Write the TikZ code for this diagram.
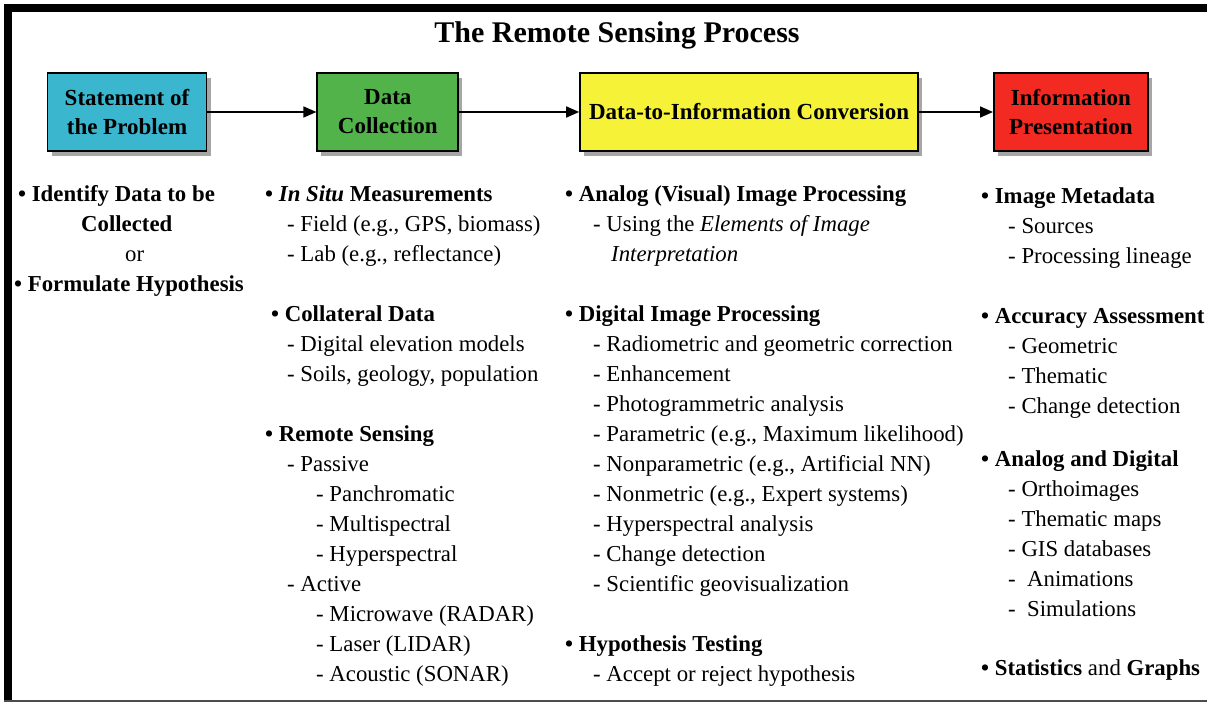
\documentclass[tikz,border=0pt]{standalone}
\usepackage{fontspec}
\setmainfont{Liberation Serif}
\usetikzlibrary{
  arrows.meta,
  positioning,
  shadows,
}
\definecolor{stagecyan}{RGB}{58, 182, 207}
\definecolor{stagegreen}{RGB}{82, 179, 74}
\definecolor{stageyellow}{RGB}{245, 242, 56}
\definecolor{stagered}{RGB}{243, 42, 34}
\newcommand{\titlefont}{\fontsize{30}{34}\selectfont\bfseries}
\newcommand{\boxfont}{\fontsize{23}{29}\selectfont\bfseries}
\newcommand{\bodyfont}{\fontsize{22.8}{30}\selectfont}
\newcommand{\ind}[1]{\hspace*{#1pt}}
\tikzstyle{flow} = [
  -{Triangle[length=13pt, width=11pt]},
  line width=1.6pt,
]

\begin{document}
\begin{tikzpicture}[x=1pt, y=-1pt,
    stage/.style={draw, line width=1.8pt, minimum height=78pt,
                  inner sep=0pt, align=center, font=\boxfont,
                  drop shadow={shadow xshift=4pt, shadow yshift=-5pt,
                               opacity=.35, fill=black}},
    points/.style={anchor=north west, inner sep=0pt, align=left,
                   font=\bodyfont}]
  \useasboundingbox (0,0) rectangle (1207,703);
  % frame
  \draw [line width=8pt] (8,700) -- (8,8) -- (1207,8);
  \draw [black!70, line width=1.5pt] (4,701) -- (1207,701);
  \node [font=\titlefont, anchor=base] (title) at (617,43)
        {The Remote Sensing Process};
  % the four stages
  \node [stage, fill=stagecyan, minimum width=159pt] (problem) at (127,112)
        {Statement of\\the Problem};
  \node [stage, fill=stagegreen, minimum width=141pt, right=109pt of problem]
        (collect) {Data\\Collection};
  \node [stage, fill=stageyellow, minimum width=338pt, right=120pt of collect]
        (convert) {Data-to-Information Conversion};
  \node [stage, fill=stagered, minimum width=154pt, right=74pt of convert]
        (present) {Information\\Presentation};
  \draw [flow] (problem) -- (collect);
  \draw [flow] (collect) -- (convert);
  \draw [flow] (convert) -- (present);
  % what goes on in each stage
  \node [points] (problempts) at (14,180)
        {\strut\ind{4}\textbf{\textbullet\ Identify Data to be}\\
         \ind{67}\textbf{Collected}\\
         \ind{111}or\\
         \textbf{\textbullet\ Formulate Hypothesis}};
  \node [points] (collectpts) at (265,180)
        {\strut\textbf{\textbullet\ \textit{In Situ} Measurements}\\
         \ind{22}- Field (e.g., GPS, biomass)\\
         \ind{22}- Lab (e.g., reflectance)\\
         \strut\\
         \ind{6}\textbf{\textbullet\ Collateral Data}\\
         \ind{22}- Digital elevation models\\
         \ind{22}- Soils, geology, population\\
         \strut\\
         \textbf{\textbullet\ Remote Sensing}\\
         \ind{22}- Passive\\
         \ind{51}- Panchromatic\\
         \ind{51}- Multispectral\\
         \ind{51}- Hyperspectral\\
         \ind{22}- Active\\
         \ind{51}- Microwave (RADAR)\\
         \ind{51}- Laser (LIDAR)\\
         \ind{51}- Acoustic (SONAR)};
  \node [points] (convertpts) at (565,180)
        {\strut\textbf{\textbullet\ Analog (Visual) Image Processing}\\
         \ind{28}- Using the \textit{Elements of Image}\\
         \ind{46}\textit{Interpretation}\\
         \strut\\
         \textbf{\textbullet\ Digital Image Processing}\\
         \ind{28}- Radiometric and geometric correction\\
         \ind{28}- Enhancement\\
         \ind{28}- Photogrammetric analysis\\
         \ind{28}- Parametric (e.g., Maximum likelihood)\\
         \ind{28}- Nonparametric (e.g., Artificial NN)\\
         \ind{28}- Nonmetric (e.g., Expert systems)\\
         \ind{28}- Hyperspectral analysis\\
         \ind{28}- Change detection\\
         \ind{28}- Scientific geovisualization\\
         \strut\\
         \textbf{\textbullet\ Hypothesis Testing}\\
         \ind{28}- Accept or reject hypothesis};
  \node [points] (metadata) at (981,182)
        {\strut\textbf{\textbullet\ Image Metadata}\\
         \ind{27}- Sources\\
         \ind{27}- Processing lineage\\
         \strut\\
         \textbf{\textbullet\ Accuracy Assessment}\\
         \ind{27}- Geometric\\
         \ind{27}- Thematic\\
         \ind{27}- Change detection};
  \node [points] (products) at (981,445)
        {\strut\textbf{\textbullet\ Analog and Digital}\\
         \ind{27}- Orthoimages\\
         \ind{27}- Thematic maps\\
         \ind{27}- GIS databases\\
         \ind{27}-\ \ Animations\\
         \ind{27}-\ \ Simulations};
  \node [points] (stats) at (981,654)
        {\strut\textbf{\textbullet\ Statistics} and \textbf{Graphs}};
\end{tikzpicture}
\end{document}
